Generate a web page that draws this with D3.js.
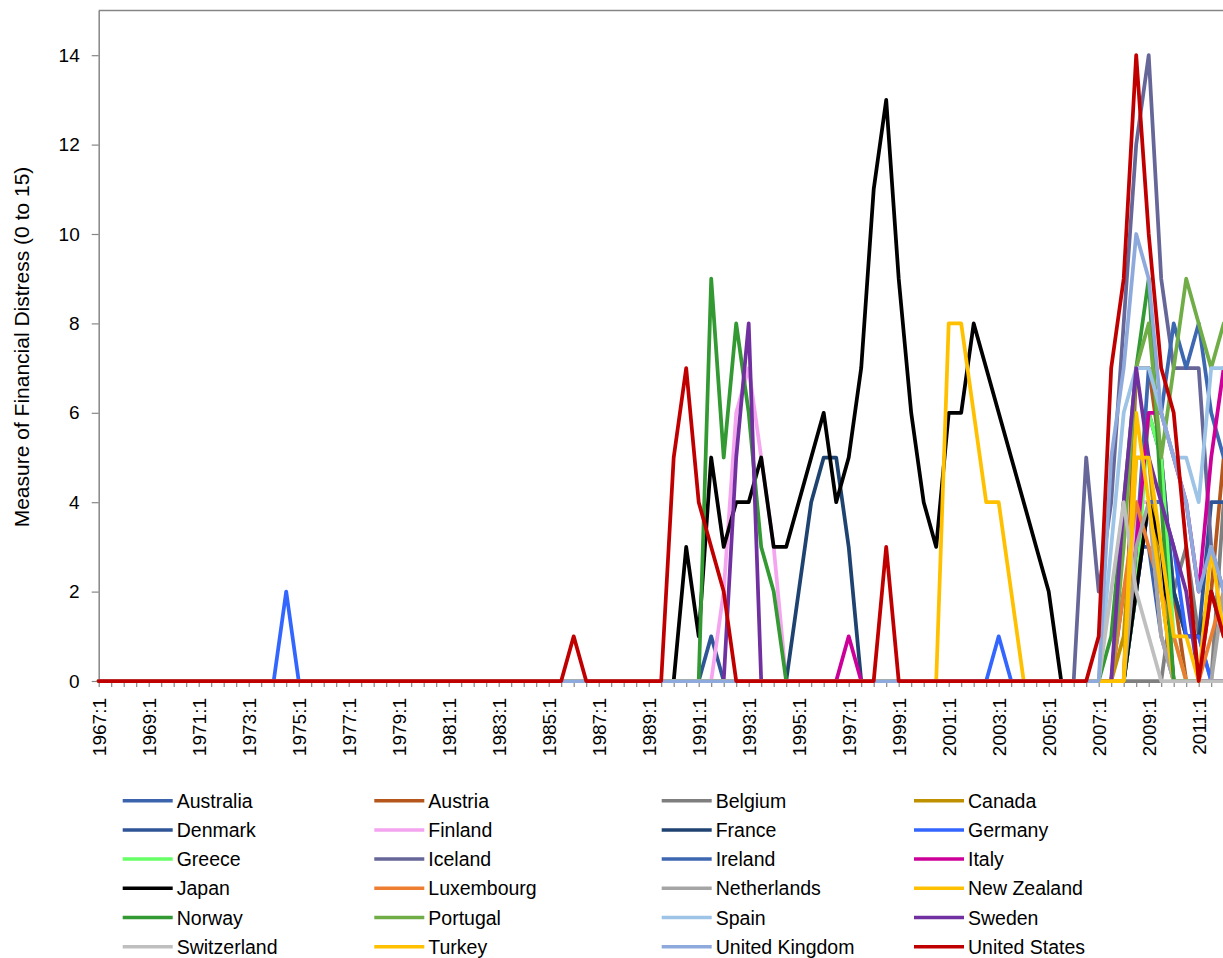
<!DOCTYPE html>
<html>
<head>
<meta charset="utf-8">
<script src="https://cdn.jsdelivr.net/npm/d3@7"></script>
<style>
  body { margin: 0; background: #fff; }
  svg { display: block; font-family: "Liberation Sans", Arial, sans-serif; }
</style>
</head>
<body>
<svg id="chart" width="1223" height="958"></svg>
<script>
// semiannual periods 1967:1 .. 2012:1 (91 points), every 4th one gets a label
const tickLabels = ["1967:1", "1969:1", "1971:1", "1973:1", "1975:1", "1977:1", "1979:1", "1981:1",
  "1983:1", "1985:1", "1987:1", "1989:1", "1991:1", "1993:1", "1995:1", "1997:1", "1999:1",
  "2001:1", "2003:1", "2005:1", "2007:1", "2009:1", "2011:1"];
const yTicks = [0, 2, 4, 6, 8, 10, 12, 14];

const countries = ["Australia", "Austria", "Belgium", "Canada", "Denmark", "Finland", "France", "Germany",
  "Greece", "Iceland", "Ireland", "Italy", "Japan", "Luxembourg", "Netherlands", "New Zealand",
  "Norway", "Portugal", "Spain", "Sweden", "Switzerland", "Turkey", "United Kingdom", "United States"];

const colors = ["#3B64AD", "#B5561C", "#7F7F7F", "#BF9000", "#2F5597", "#F5A5F0", "#1F4370", "#3366FF",
  "#66FF66", "#666699", "#3D67B1", "#CC0099", "#000000", "#ED7D31", "#A5A5A5", "#FFC000",
  "#339933", "#70AD47", "#9DC3E6", "#7030A0", "#BFBFBF", "#FFC000", "#8EA9DB", "#C00000"];

// values per period, rows of ten: 1967:1-1971:2, 1972:1-1976:2, ...
const australia = [
  0,0,0,0,0,0,0,0,0,0, 0,0,0,0,0,0,0,0,0,0, 0,0,0,0,0,0,0,0,0,0,
  0,0,0,0,0,0,0,0,0,0, 0,0,0,0,0,0,0,0,0,0, 0,0,0,0,0,0,0,0,0,0,
  0,0,0,0,0,0,0,0,0,0, 0,0,0,0,0,0,0,0,0,0, 0,0,2,3,3,1,0,0,0,0, 0];
const austria = [
  0,0,0,0,0,0,0,0,0,0, 0,0,0,0,0,0,0,0,0,0, 0,0,0,0,0,0,0,0,0,0,
  0,0,0,0,0,0,0,0,0,0, 0,0,0,0,0,0,0,0,0,0, 0,0,0,0,0,0,0,0,0,0,
  0,0,0,0,0,0,0,0,0,0, 0,0,0,0,0,0,0,0,0,0, 0,0,0,7,7,5,2,0,0,2, 5];
const belgium = [
  0,0,0,0,0,0,0,0,0,0, 0,0,0,0,0,0,0,0,0,0, 0,0,0,0,0,0,0,0,0,0,
  0,0,0,0,0,0,0,0,0,0, 0,0,0,0,0,0,0,0,0,0, 0,0,0,0,0,0,0,0,0,0,
  0,0,0,0,0,0,0,0,0,0, 0,0,0,0,0,0,0,0,0,0, 0,0,0,0,0,0,2,3,1,0, 4];
const canada = [
  0,0,0,0,0,0,0,0,0,0, 0,0,0,0,0,0,0,0,0,0, 0,0,0,0,0,0,0,0,0,0,
  0,0,0,0,0,0,0,0,0,0, 0,0,0,0,0,0,0,0,0,0, 0,0,0,0,0,0,0,0,0,0,
  0,0,0,0,0,0,0,0,0,0, 0,0,0,0,0,0,0,0,0,0, 0,0,1,5,5,2,0,0,0,0, 0];
const denmark = [
  0,0,0,0,0,0,0,0,0,0, 0,0,0,0,0,0,0,0,0,0, 0,0,0,0,0,0,0,0,0,0,
  0,0,0,0,0,0,0,0,0,0, 0,0,0,0,0,0,0,0,0,1, 0,0,0,0,0,0,0,0,0,0,
  0,0,0,0,0,0,0,0,0,0, 0,0,0,0,0,0,0,0,0,0, 0,0,0,3,6,5,2,1,1,4, 4];
const finland = [
  0,0,0,0,0,0,0,0,0,0, 0,0,0,0,0,0,0,0,0,0, 0,0,0,0,0,0,0,0,0,0,
  0,0,0,0,0,0,0,0,0,0, 0,0,0,0,0,0,0,0,0,0, 2,6,7,5,3,0,0,0,0,0,
  0,0,0,0,0,0,0,0,0,0, 0,0,0,0,0,0,0,0,0,0, 0,0,0,4,4,1,0,0,0,0, 0];
const france = [
  0,0,0,0,0,0,0,0,0,0, 0,0,0,0,0,0,0,0,0,0, 0,0,0,0,0,0,0,0,0,0,
  0,0,0,0,0,0,0,0,0,0, 0,0,0,0,0,0,0,0,0,0, 0,0,0,0,0,0,2,4,5,5,
  3,0,0,0,0,0,0,0,0,0, 0,0,0,0,0,0,0,0,0,0, 0,0,0,2,4,4,2,1,1,2, 1];
const germany = [
  0,0,0,0,0,0,0,0,0,0, 0,0,0,0,0,2,0,0,0,0, 0,0,0,0,0,0,0,0,0,0,
  0,0,0,0,0,0,0,0,0,0, 0,0,0,0,0,0,0,0,0,0, 0,0,0,0,0,0,0,0,0,0,
  0,0,0,0,0,0,0,0,0,0, 0,0,1,0,0,0,0,0,0,0, 0,0,0,2,4,4,3,1,1,0, 0];
const greece = [
  0,0,0,0,0,0,0,0,0,0, 0,0,0,0,0,0,0,0,0,0, 0,0,0,0,0,0,0,0,0,0,
  0,0,0,0,0,0,0,0,0,0, 0,0,0,0,0,0,0,0,0,0, 0,0,0,0,0,0,0,0,0,0,
  0,0,0,0,0,0,0,0,0,0, 0,0,0,0,0,0,0,0,0,0, 0,0,0,2,6,5,1,0,0,0, 0];
const iceland = [
  0,0,0,0,0,0,0,0,0,0, 0,0,0,0,0,0,0,0,0,0, 0,0,0,0,0,0,0,0,0,0,
  0,0,0,0,0,0,0,0,0,0, 0,0,0,0,0,0,0,0,0,0, 0,0,0,0,0,0,0,0,0,0,
  0,0,0,0,0,0,0,0,0,0, 0,0,0,0,0,0,0,0,0,5, 2,4,8,12,14,9,7,7,7,3, 2];
const ireland = [
  0,0,0,0,0,0,0,0,0,0, 0,0,0,0,0,0,0,0,0,0, 0,0,0,0,0,0,0,0,0,0,
  0,0,0,0,0,0,0,0,0,0, 0,0,0,0,0,0,0,0,0,0, 0,0,0,0,0,0,0,0,0,0,
  0,0,0,0,0,0,0,0,0,0, 0,0,0,0,0,0,0,0,0,0, 0,0,0,3,7,6,8,7,8,6, 5];
const italy = [
  0,0,0,0,0,0,0,0,0,0, 0,0,0,0,0,0,0,0,0,0, 0,0,0,0,0,0,0,0,0,0,
  0,0,0,0,0,0,0,0,0,0, 0,0,0,0,0,0,0,0,0,0, 0,0,0,0,0,0,0,0,0,0,
  1,0,0,0,0,0,0,0,0,0, 0,0,0,0,0,0,0,0,0,0, 0,0,0,3,6,6,5,4,2,5, 7];
const japan = [
  0,0,0,0,0,0,0,0,0,0, 0,0,0,0,0,0,0,0,0,0, 0,0,0,0,0,0,0,0,0,0,
  0,0,0,0,0,0,0,0,0,0, 0,0,0,0,0,0,0,3,1,5, 3,4,4,5,3,3,4,5,6,4,
  5,7,11,13,9,6,4,3,6,6, 8,7,6,5,4,3,2,0,0,0, 0,0,0,2,4,3,0,0,0,0, 0];
const luxembourg = [
  0,0,0,0,0,0,0,0,0,0, 0,0,0,0,0,0,0,0,0,0, 0,0,0,0,0,0,0,0,0,0,
  0,0,0,0,0,0,0,0,0,0, 0,0,0,0,0,0,0,0,0,0, 0,0,0,0,0,0,0,0,0,0,
  0,0,0,0,0,0,0,0,0,0, 0,0,0,0,0,0,0,0,0,0, 0,0,2,4,3,2,1,0,0,1, 2];
const netherlands = [
  0,0,0,0,0,0,0,0,0,0, 0,0,0,0,0,0,0,0,0,0, 0,0,0,0,0,0,0,0,0,0,
  0,0,0,0,0,0,0,0,0,0, 0,0,0,0,0,0,0,0,0,0, 0,0,0,0,0,0,0,0,0,0,
  0,0,0,0,0,0,0,0,0,0, 0,0,0,0,0,0,0,0,0,0, 0,0,0,3,4,1,0,0,0,0, 2];
const newZealand = [
  0,0,0,0,0,0,0,0,0,0, 0,0,0,0,0,0,0,0,0,0, 0,0,0,0,0,0,0,0,0,0,
  0,0,0,0,0,0,0,0,0,0, 0,0,0,0,0,0,0,0,0,0, 0,0,0,0,0,0,0,0,0,0,
  0,0,0,0,0,0,0,0,0,0, 0,0,0,0,0,0,0,0,0,0, 0,0,0,6,4,2,0,0,0,0, 0];
const norway = [
  0,0,0,0,0,0,0,0,0,0, 0,0,0,0,0,0,0,0,0,0, 0,0,0,0,0,0,0,0,0,0,
  0,0,0,0,0,0,0,0,0,0, 0,0,0,0,0,0,0,0,0,9, 5,8,6,3,2,0,0,0,0,0,
  0,0,0,0,0,0,0,0,0,0, 0,0,0,0,0,0,0,0,0,0, 0,1,4,7,9,4,0,0,0,0, 0];
const portugal = [
  0,0,0,0,0,0,0,0,0,0, 0,0,0,0,0,0,0,0,0,0, 0,0,0,0,0,0,0,0,0,0,
  0,0,0,0,0,0,0,0,0,0, 0,0,0,0,0,0,0,0,0,0, 0,0,0,0,0,0,0,0,0,0,
  0,0,0,0,0,0,0,0,0,0, 0,0,0,0,0,0,0,0,0,0, 0,0,3,7,8,5,7,9,8,7, 8];
const spain = [
  0,0,0,0,0,0,0,0,0,0, 0,0,0,0,0,0,0,0,0,0, 0,0,0,0,0,0,0,0,0,0,
  0,0,0,0,0,0,0,0,0,0, 0,0,0,0,0,0,0,0,0,0, 0,0,0,0,0,0,0,0,0,0,
  0,0,0,0,0,0,0,0,0,0, 0,0,0,0,0,0,0,0,0,0, 0,3,6,7,7,6,5,5,4,7, 7];
const sweden = [
  0,0,0,0,0,0,0,0,0,0, 0,0,0,0,0,0,0,0,0,0, 0,0,0,0,0,0,0,0,0,0,
  0,0,0,0,0,0,0,0,0,0, 0,0,0,0,0,0,0,0,0,0, 0,5,8,0,0,0,0,0,0,0,
  0,0,0,0,0,0,0,0,0,0, 0,0,0,0,0,0,0,0,0,0, 0,0,4,7,5,4,3,2,0,0, 0];
const switzerland = [
  0,0,0,0,0,0,0,0,0,0, 0,0,0,0,0,0,0,0,0,0, 0,0,0,0,0,0,0,0,0,0,
  0,0,0,0,0,0,0,0,0,0, 0,0,0,0,0,0,0,0,0,0, 0,0,0,0,0,0,0,0,0,0,
  0,0,0,0,0,0,0,0,0,0, 0,0,0,0,0,0,0,0,0,0, 0,2,4,2,1,0,0,0,0,0, 0];
const turkey = [
  0,0,0,0,0,0,0,0,0,0, 0,0,0,0,0,0,0,0,0,0, 0,0,0,0,0,0,0,0,0,0,
  0,0,0,0,0,0,0,0,0,0, 0,0,0,0,0,0,0,0,0,0, 0,0,0,0,0,0,0,0,0,0,
  0,0,0,0,0,0,0,0,8,8, 6,4,4,2,0,0,0,0,0,0, 0,0,0,5,5,3,1,1,0,3, 1];
const unitedKingdom = [
  0,0,0,0,0,0,0,0,0,0, 0,0,0,0,0,0,0,0,0,0, 0,0,0,0,0,0,0,0,0,0,
  0,0,0,0,0,0,0,0,0,0, 0,0,0,0,0,0,0,0,0,0, 0,0,0,0,0,0,0,0,0,0,
  0,0,0,0,0,0,0,0,0,0, 0,0,0,0,0,0,0,0,0,0, 0,5,7,10,9,6,5,4,2,3, 2];
const unitedStates = [
  0,0,0,0,0,0,0,0,0,0, 0,0,0,0,0,0,0,0,0,0, 0,0,0,0,0,0,0,0,0,0,
  0,0,0,0,0,0,0,0,1,0, 0,0,0,0,0,0,5,7,4,3, 2,0,0,0,0,0,0,0,0,0,
  0,0,0,3,0,0,0,0,0,0, 0,0,0,0,0,0,0,0,0,0, 1,7,9,14,10,7,6,3,0,2, 1];

const seriesValues = [australia, austria, belgium, canada, denmark, finland, france, germany,
  greece, iceland, ireland, italy, japan, luxembourg, netherlands, newZealand,
  norway, portugal, spain, sweden, switzerland, turkey, unitedKingdom, unitedStates];

const periods = [];
for (let yr = 1967; yr <= 2012; yr++) {
  periods.push(yr + ":1");
  if (yr < 2012) periods.push(yr + ":2");
}

const svg = d3.select("#chart");
const axisColor = "#868686";
const fontSize = 19;

const x = d3.scalePoint().domain(periods).range([98.7, 98.7 + 12.5 * (periods.length - 1)]);
const y = d3.scaleLinear().domain([0, 15]).range([681, 10.5]);

// plot frame (only top and left are visible, the right side is cut off)
svg.append("line")
  .attr("x1", x.range()[0]).attr("x2", 1223)
  .attr("y1", y(15)).attr("y2", y(15))
  .attr("stroke", axisColor).attr("stroke-width", 1.5);

const yAxis = svg.append("g")
  .attr("transform", `translate(${x.range()[0]},0)`)
  .call(d3.axisLeft(y).tickValues(yTicks).tickSize(7).tickSizeOuter(0).tickPadding(12));

const xAxis = svg.append("g")
  .attr("transform", `translate(0,${y(0)})`)
  .call(d3.axisBottom(x).tickSize(6).tickSizeOuter(0)
    .tickFormat(d => tickLabels.includes(d) ? d : ""));

[yAxis, xAxis].forEach(g => {
  g.select(".domain").attr("stroke", axisColor).attr("stroke-width", 1.5);
  g.selectAll(".tick line").attr("stroke", axisColor).attr("stroke-width", 1.2);
  g.selectAll("text")
    .attr("fill", "#000")
    .style("font-size", fontSize + "px")
    .style("font-family", "'Liberation Sans', Arial, sans-serif");
});

xAxis.selectAll("text")
  .attr("transform", "rotate(-90)")
  .attr("x", -17)
  .attr("y", 0)
  .attr("dy", "0.35em")
  .style("text-anchor", "end");

svg.append("text")
  .attr("transform", "translate(28.5,347) rotate(-90)")
  .attr("text-anchor", "middle")
  .style("font-size", "21px")
  .text("Measure of Financial Distress (0 to 15)");

const line = d3.line()
  .x((d, i) => x(periods[i]))
  .y(d => y(d));

svg.append("g")
  .selectAll("path")
  .data(seriesValues)
  .enter().append("path")
  .attr("d", d => line(d))
  .attr("fill", "none")
  .attr("stroke", (d, i) => colors[i])
  .attr("stroke-width", 3.75)
  .attr("stroke-linejoin", "round")
  .attr("stroke-linecap", "round");

// legend, 4 columns x 6 rows
const legendCols = [122.7, 374.3, 661.7, 914];
const legend = svg.append("g")
  .selectAll("g")
  .data(countries)
  .enter().append("g")
  .attr("transform", (d, i) => `translate(${legendCols[i % 4]},${800.7 + 29.2 * Math.floor(i / 4)})`);

legend.append("line")
  .attr("x1", 0).attr("x2", 50)
  .attr("stroke", (d, i) => colors[i])
  .attr("stroke-width", 3.5);

legend.append("text")
  .attr("x", 54)
  .attr("dy", "0.36em")
  .style("font-size", "19.5px")
  .text(d => d);
</script>
</body>
</html>
